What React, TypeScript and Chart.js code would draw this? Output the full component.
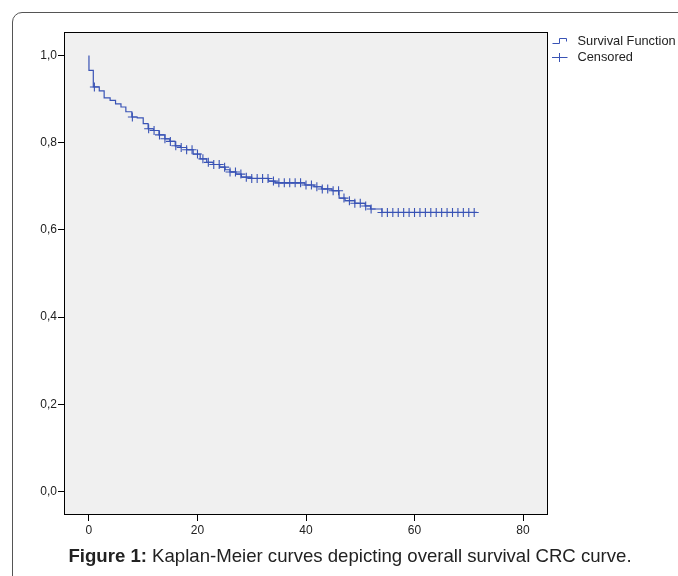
import React, { useEffect, useRef } from 'react';
import { Chart, registerables } from 'chart.js';

Chart.register(...registerables);

// Kaplan-Meier step curve: time of each drop and survival after it
const stepTimes = [0, 0, 0.8, 1.9, 2.8, 3.9, 4.9, 5.9, 6.8, 7.9, 8.9, 10.0, 10.9, 11.9, 12.9, 14.0, 14.9, 15.9, 16.9, 18.0, 19.2, 20.5, 21.7, 22.9, 24.1, 25.1, 26.0, 27.1, 28.1, 30.0, 33.1, 34.3, 39.8, 41.5, 42.9, 44.8, 46.1, 47.2, 49.0, 50.9, 51.9, 54.0, 71.5];
const stepSurvival = [1.0, 0.966, 0.928, 0.919, 0.903, 0.897, 0.889, 0.882, 0.871, 0.859, 0.857, 0.844, 0.832, 0.828, 0.818, 0.809, 0.803, 0.793, 0.789, 0.784, 0.774, 0.763, 0.755, 0.75, 0.744, 0.738, 0.733, 0.728, 0.721, 0.718, 0.712, 0.708, 0.703, 0.699, 0.694, 0.69, 0.673, 0.667, 0.661, 0.655, 0.648, 0.64, 0.64];
// censored observation times
const censorTimes = [1, 8, 11, 12, 13, 14, 15, 16, 17, 18, 19, 20, 21, 22, 23, 24, 25, 26, 27, 28, 29, 30, 31, 32, 33, 34, 35, 36, 37, 38, 39, 40, 41, 42, 43, 44, 45, 46, 47, 48, 49, 50, 51, 52, 54, 55, 56, 57, 58, 59, 60, 61, 62, 63, 64, 65, 66, 67, 68, 69, 70, 71];

const xTickValues = [0, 20, 40, 60, 80];
const yTickValues = [0, 0.2, 0.4, 0.6, 0.8, 1.0];
const legendLabels = ['Survival Function', 'Censored'];

const BLUE = '#3953b5';
const FONT = '"Liberation Sans", Arial, sans-serif';

function survivalAt(t: number): number {
  let s = stepSurvival[0];
  for (let i = 0; i < stepTimes.length; i++) {
    if (stepTimes[i] <= t) s = stepSurvival[i];
  }
  return s;
}

const plotFrame = {
  id: 'plotFrame',
  beforeDraw(chart: any) {
    const { ctx, chartArea: a } = chart;
    ctx.save();
    ctx.fillStyle = '#f0f0f0';
    ctx.fillRect(a.left, a.top, a.right - a.left, a.bottom - a.top);
    ctx.restore();
  },
  afterDraw(chart: any) {
    const { ctx, chartArea: a } = chart;
    ctx.save();
    ctx.strokeStyle = '#000';
    ctx.lineWidth = 1;
    ctx.strokeRect(Math.round(a.left) + 0.5, Math.round(a.top) + 0.5, Math.round(a.right - a.left) - 1, Math.round(a.bottom - a.top) - 1);
    // legend
    const lx = a.right + 4.5;
    const ly1 = 41;
    const ly2 = 57;
    ctx.strokeStyle = BLUE;
    ctx.lineWidth = 1;
    ctx.beginPath();
    ctx.moveTo(lx, ly1 + 2.5);
    ctx.lineTo(lx + 7, ly1 + 2.5);
    ctx.lineTo(lx + 7, ly1 - 2.5);
    ctx.lineTo(lx + 14, ly1 - 2.5);
    ctx.lineTo(lx + 14, ly1 + 0.5);
    ctx.stroke();
    ctx.beginPath();
    ctx.moveTo(lx - 0.5, ly2 + 0.5);
    ctx.lineTo(lx + 15, ly2 + 0.5);
    ctx.moveTo(lx + 7, ly2 - 4);
    ctx.lineTo(lx + 7, ly2 + 5);
    ctx.stroke();
    ctx.fillStyle = '#222';
    ctx.font = '12.8px ' + FONT;
    ctx.textBaseline = 'middle';
    ctx.textAlign = 'left';
    ctx.fillText(legendLabels[0], lx + 25, ly1);
    ctx.fillText(legendLabels[1], lx + 25, ly2);
    ctx.restore();
  },
};

function KMChart() {
  const ref = useRef<HTMLCanvasElement | null>(null);
  useEffect(() => {
    if (!ref.current) return;
    const chart = new Chart(ref.current, {
      type: 'line',
      data: {
        datasets: [
          {
            type: 'line',
            label: legendLabels[0],
            data: stepTimes.map((t, i) => ({ x: t, y: stepSurvival[i] })),
            stepped: 'before',
            borderColor: BLUE,
            borderWidth: 1.2,
            pointRadius: 0,
            fill: false,
          } as any,
          {
            type: 'scatter',
            label: legendLabels[1],
            data: censorTimes.map((t) => ({ x: t, y: survivalAt(t) })),
            pointStyle: 'cross',
            pointRadius: 4.5,
            borderColor: BLUE,
            borderWidth: 1.1,
            showLine: false,
          } as any,
        ],
      },
      options: {
        animation: false,
        responsive: false,
        maintainAspectRatio: false,
        layout: { padding: { left: 0, top: 32, right: 130, bottom: 0 } },
        plugins: { legend: { display: false }, tooltip: { enabled: false } },
        scales: {
          x: {
            type: 'linear',
            min: -4.6,
            max: 84.6,
            afterBuildTicks: (s: any) => {
              s.ticks = xTickValues.map((v) => ({ value: v }));
            },
            afterFit: (s: any) => {
              s.height = 61;
            },
            ticks: {
              color: '#222',
              font: { family: FONT, size: 12 },
              padding: 2,
              maxRotation: 0,
              callback: (v: any) => String(v),
            },
            grid: { drawOnChartArea: false, drawTicks: true, tickLength: 6, color: '#000' },
            border: { display: false },
          },
          y: {
            type: 'linear',
            min: -0.054,
            max: 1.054,
            afterBuildTicks: (s: any) => {
              s.ticks = yTickValues.map((v) => ({ value: v }));
            },
            afterFit: (s: any) => {
              s.width = 64;
            },
            ticks: {
              color: '#222',
              font: { family: FONT, size: 12 },
              padding: 1,
              callback: (v: any) => Number(v).toFixed(1).replace('.', ','),
            },
            grid: { drawOnChartArea: false, drawTicks: true, tickLength: 6, color: '#000' },
            border: { display: false },
          },
        },
      },
      plugins: [plotFrame],
    });
    return () => chart.destroy();
  }, []);
  return (
    <canvas
      ref={ref}
      width={678}
      height={576}
      style={{ position: 'absolute', left: 0, top: 0, width: 678, height: 576 }}
    />
  );
}

export default function App() {
  return (
    <div style={{ position: 'fixed', left: 0, top: 0, width: 678, height: 576, overflow: 'hidden', background: '#fff' }}>
      <div
        style={{
          position: 'absolute',
          left: 12,
          top: 12,
          width: 720,
          height: 620,
          border: '1px solid #555',
          borderRadius: 10,
          boxSizing: 'border-box',
        }}
      />
      <KMChart />
      <div
        style={{
          position: 'absolute',
          left: 0,
          width: 700,
          top: 544,
          textAlign: 'center',
          fontFamily: FONT,
          fontSize: 18.6,
          color: '#222',
          whiteSpace: 'nowrap',
          lineHeight: '24px',
        }}
      >
        <b>Figure 1:</b> Kaplan-Meier curves depicting overall survival CRC curve.
      </div>
    </div>
  );
}
